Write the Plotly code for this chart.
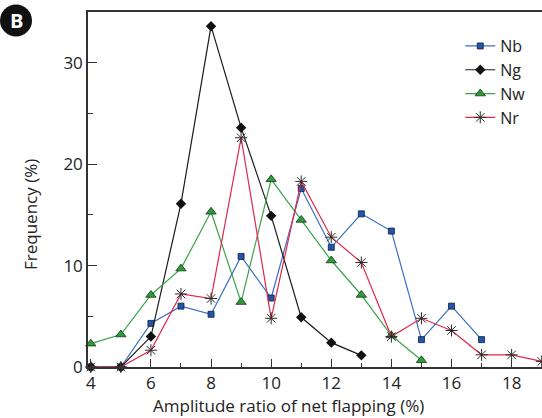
import plotly.graph_objects as go

# Amplitude ratio bins (%) and frequency (%) per group
x_nb = [4, 5, 6, 7, 8, 9, 10, 11, 12, 13, 14, 15, 16, 17]
nb = [0, 0, 4.3, 6.0, 5.2, 10.9, 6.8, 17.6, 11.8, 15.1, 13.4, 2.7, 6.0, 2.7]

x_ng = [4, 5, 6, 7, 8, 9, 10, 11, 12, 13]
ng = [0, 0, 3.0, 16.1, 33.6, 23.6, 14.9, 4.9, 2.4, 1.15]

x_nw = [4, 5, 6, 7, 8, 9, 10, 11, 12, 13, 14, 15]
nw = [2.3, 3.2, 7.1, 9.7, 15.3, 6.4, 18.5, 14.5, 10.5, 7.1, 3.1, 0.66]

x_nr = [4, 5, 6, 7, 8, 9, 10, 11, 12, 13, 14, 15, 16, 17, 18, 19]
nr = [0, 0, 1.65, 7.2, 6.75, 22.6, 4.8, 18.3, 12.8, 10.3, 3.0, 4.8, 3.6, 1.2, 1.2, 0.55]

x_ticks = [4, 6, 8, 10, 12, 14, 16, 18]
y_ticks = [0, 10, 20, 30]

FONT = "Open Sans"
PW, PH = 454, 355  # plot area size in px

fig = go.Figure()

fig.add_trace(go.Scatter(
    x=x_nb, y=nb, name="Nb", mode="lines+markers", cliponaxis=False,
    line=dict(color="#3b6fc4", width=1.2),
    marker=dict(symbol="square", size=6, color="#2455a8",
                line=dict(color="#0d1f40", width=0.8)),
))
fig.add_trace(go.Scatter(
    x=x_ng, y=ng, name="Ng", mode="lines+markers", cliponaxis=False,
    line=dict(color="#1a1a1a", width=1.2),
    marker=dict(symbol="diamond", size=8, color="#111111"),
))
fig.add_trace(go.Scatter(
    x=x_nw, y=nw, name="Nw", mode="lines+markers", cliponaxis=False,
    line=dict(color="#3aa34a", width=1.2),
    marker=dict(symbol="triangle-up", size=9, color="#2f9a3c",
                line=dict(color="#10361a", width=0.8)),
))
fig.add_trace(go.Scatter(
    x=x_nr, y=nr, name="Nr", mode="lines+markers", cliponaxis=False,
    line=dict(color="#e0284a", width=1.2),
    marker=dict(symbol="asterisk-open", size=10, color="#2a2a2a",
                line=dict(color="#2a2a2a", width=1)),
))

# Circular panel badge "B"
fig.add_shape(type="circle", xref="paper", yref="paper",
              x0=-88 / PW, x1=-56 / PW, y0=1 + 12 / PH - 36.5 / PH,
              y1=1 + 12 / PH - 4.5 / PH,
              fillcolor="#111111", line=dict(width=0))
fig.add_annotation(text="<b>B</b>", xref="paper", yref="paper",
                   x=-72 / PW, y=1 + 12 / PH - 20.5 / PH,
                   showarrow=False, xanchor="center", yanchor="middle",
                   font=dict(family=FONT, size=20, color="white"))

# Axis titles
fig.add_annotation(text="Frequency (%)", xref="paper", yref="paper",
                   x=-58 / PW, y=(367 - 215) / PH, textangle=-90,
                   showarrow=False, xanchor="center", yanchor="middle",
                   font=dict(family=FONT, size=17, color="#222222"))
fig.add_annotation(text="Amplitude ratio of net flapping (%)",
                   xref="paper", yref="paper",
                   x=(288 - 88) / PW, y=-(405 - 367) / PH,
                   showarrow=False, xanchor="center", yanchor="middle",
                   font=dict(family=FONT, size=17, color="#222222"))

fig.update_layout(
    width=542, height=418,
    margin=dict(l=88, r=0, t=12, b=51),
    paper_bgcolor="white", plot_bgcolor="white",
    font=dict(family=FONT, size=16, color="#222222"),
    showlegend=True,
    legend=dict(x=0.82, y=0.952, xanchor="left", yanchor="top",
                bgcolor="rgba(0,0,0,0)", borderwidth=0,
                font=dict(size=16), itemwidth=30),
    xaxis=dict(
        range=[3.907, 19.01], tickvals=x_ticks, ticks="inside",
        ticklen=8, tickwidth=1, tickcolor="#333333",
        showline=True, linecolor="#333333", linewidth=1.5, mirror=True,
        showgrid=False, zeroline=False,
        minor=dict(dtick=1, ticks="inside", ticklen=4, tickcolor="#333333",
                   showgrid=False),
        tickfont=dict(size=17),
    ),
    yaxis=dict(
        range=[0, 35], tickvals=y_ticks, ticks="inside",
        ticklen=9, tickwidth=1, tickcolor="#333333",
        showline=True, linecolor="#333333", linewidth=1.5,
        showgrid=False, zeroline=False,
        minor=dict(dtick=5, ticks="inside", ticklen=5, tickcolor="#333333",
                   showgrid=False),
        tickfont=dict(size=17),
    ),
)

fig.write_html("out.html")
